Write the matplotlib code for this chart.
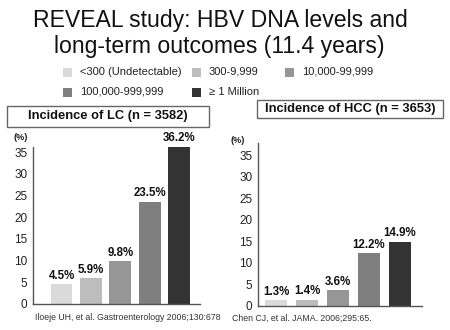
import matplotlib.pyplot as plt
from matplotlib.patches import Rectangle

# HBV DNA level groups (copies/mL)
groups = ['<300 (Undetectable)', '300-9,999', '10,000-99,999',
          '100,000-999,999', '\u2265 1 Million']
colors = ['#dadada', '#bdbdbd', '#969696', '#7f7f7f', '#333333']

lc_values = [4.5, 5.9, 9.8, 23.5, 36.2]
hcc_values = [1.3, 1.4, 3.6, 12.2, 14.9]
yticks = [0, 5, 10, 15, 20, 25, 30, 35]

plt.rcParams['font.family'] = ['Liberation Sans', 'DejaVu Sans']

W, H = 450, 330
fig = plt.figure(figsize=(W / 100, H / 100), dpi=100)


def px(x, y):
    # pixel position (from top-left) -> figure fraction
    return x / W, 1 - y / H


# title
fig.text(*px(220, 20), 'REVEAL study: HBV DNA levels and', ha='center', va='center',
         fontsize=16.6, color='#111111')
fig.text(*px(219, 47), 'long-term outcomes (11.4 years)', ha='center', va='center',
         fontsize=16.6, color='#111111')

# legend drawn by hand, two rows
legend_pos = [(63, 72), (192, 72), (285, 72), (63, 92), (192, 92)]
for (lx, ly), label, c in zip(legend_pos, groups, colors):
    x0, y0 = px(lx, ly + 4.5)
    fig.patches.append(Rectangle((x0, y0), 9 / W, 9 / H, transform=fig.transFigure,
                                 facecolor=c, edgecolor='none'))
    fig.text(*px(lx + 17, ly), label, ha='left', va='center', fontsize=8.0, color='#222222')


def panel(rect, values, ylim_top, xlim, title, box, pct_pos, cite, cite_x):
    ax = fig.add_axes(rect)
    xs = range(len(values))
    ax.bar(xs, values, width=0.74, color=colors)
    for x, v in zip(xs, values):
        ax.annotate(f'{v}%', (x, v), xytext=(0, 2), textcoords='offset points',
                    ha='center', va='bottom', fontsize=8.3, fontweight='bold', color='#111111')
    ax.set_ylim(0, ylim_top)
    ax.set_xlim(*xlim)
    ax.set_yticks(yticks)
    ax.set_xticks([])
    ax.tick_params(axis='y', length=0, pad=4, labelsize=8.5, labelcolor='#222222')
    for s in ['top', 'right']:
        ax.spines[s].set_visible(False)
    for s in ['left', 'bottom']:
        ax.spines[s].set_color('#555555')
        ax.spines[s].set_linewidth(1.0)
    ax.patch.set_alpha(0)

    bx0, by0, bx1, by1 = box
    x0, y0 = px(bx0, by1)
    fig.patches.append(Rectangle((x0, y0), (bx1 - bx0) / W, (by1 - by0) / H,
                                 transform=fig.transFigure, facecolor='white',
                                 edgecolor='#666666', linewidth=1.0))
    fig.text(*px((bx0 + bx1) / 2, (by0 + by1) / 2), title, ha='center', va='center',
             fontsize=9.3, fontweight='bold', color='#111111')
    fig.text(*px(*pct_pos), '(%)', ha='center', va='center', fontsize=6.5,
             fontweight='bold', color='#222222')
    fig.text(*px(cite_x, 318), cite, ha='left', va='center', fontsize=6.3, color='#333333')
    return ax


panel([33 / W, 26 / H, 167 / W, 157 / H], lc_values, 36.2, (-0.97, 4.71),
      'Incidence of LC (n = 3582)', (7, 106, 209, 127), (21, 138),
      'Iloeje UH, et al. Gastroenterology 2006;130:678', 35)
panel([258 / W, 24 / H, 164 / W, 163 / H], hcc_values, 37.8, (-0.58, 4.71),
      'Incidence of HCC (n = 3653)', (257, 100, 443, 118), (238, 140),
      'Chen CJ, et al. JAMA. 2006;295:65.', 232)

fig.savefig('out.png', dpi=100)
